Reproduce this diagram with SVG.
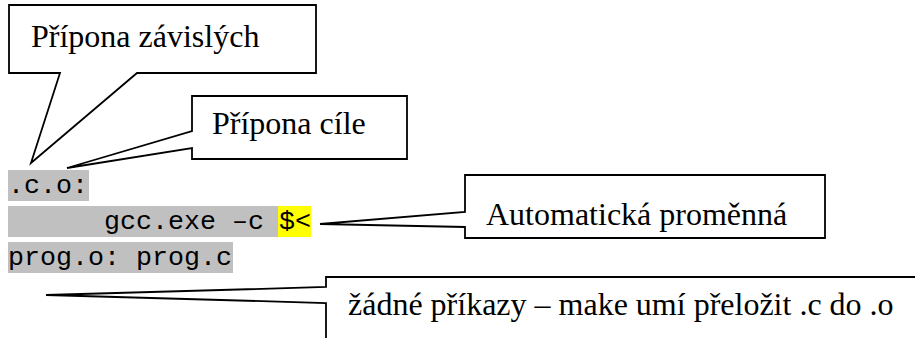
<svg xmlns="http://www.w3.org/2000/svg" width="915" height="338" viewBox="0 0 915 338">
<style>
.co{fill:#fff;stroke:#000;stroke-width:1.8;stroke-linejoin:miter}
.lbl{font-family:"Liberation Serif","Times New Roman",serif;font-size:32px;fill:#000}
.code{font-family:"Liberation Mono","Courier New",monospace;font-size:26.67px;fill:#000}
.bg{fill:#c0c0c0}
.hl{fill:#ffff00}
</style>
<rect width="915" height="338" fill="#fff"/>
<g id="code-line1">
<rect class="bg" x="8" y="170" width="81" height="31"/>
<text class="code" x="8" y="193">.c.o:</text>
</g>
<g id="code-line2">
<rect class="bg" x="8" y="206" width="270" height="31"/>
<rect class="hl" x="278" y="206" width="33" height="31"/>
<text class="code" x="104" y="229">gcc.exe –c</text>
<text class="code" x="279" y="229">$&lt;</text>
</g>
<g id="code-line3">
<rect class="bg" x="8" y="242" width="225" height="31"/>
<text class="code" x="8" y="265">prog.o: prog.c</text>
</g>
<g id="callout-zavislych">
<path class="co" d="M9 5 H316 V73 H137 L31 163 L60 73 H9 Z"/>
<text class="lbl" x="31" y="47">Přípona závislých</text>
</g>
<g id="callout-cile">
<path class="co" d="M192 96 H407 V159 H192 V148 L67 168 L192 131 Z"/>
<text class="lbl" x="212" y="134">Přípona cíle</text>
</g>
<g id="callout-automaticka">
<path class="co" d="M465 175 H825 V238 H465 V227 L320 224 L465 212 Z"/>
<text class="lbl" x="486" y="225">Automatická proměnná</text>
</g>
<g id="callout-zadne">
<path class="co" d="M925 277 H326 V287 L46 295 L326 303 V350 H925 Z"/>
<text class="lbl" x="348" y="315">žádné příkazy – make umí přeložit .c do .o</text>
</g>
<g id="connectors"></g>
</svg>
